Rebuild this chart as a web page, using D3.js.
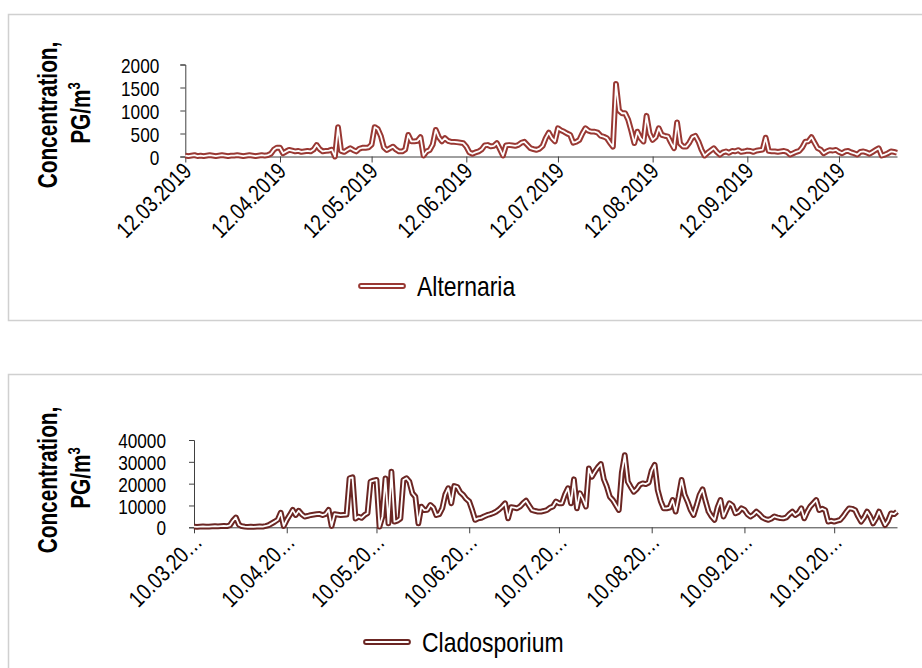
<!DOCTYPE html>
<html><head><meta charset="utf-8">
<script src="https://cdn.jsdelivr.net/npm/d3@7"></script>
<style>
body{margin:0;background:#fff;}
svg{display:block;}
.nar{font-family:"Liberation Sans",Arial,sans-serif;}
.ttl{font-family:"Liberation Sans",Arial,sans-serif;font-weight:bold;}
</style></head><body>
<svg id="c" width="922" height="668"></svg>
<script>
// ---- data ----
const altStart = "2019-03-12";
const altTickLabels = ["12.03.2019","12.04.2019","12.05.2019","12.06.2019","12.07.2019","12.08.2019","12.09.2019","12.10.2019"];
const altYTicks = [0,500,1000,1500,2000];
const alternaria = [
20,10,20,30,10,20,10,20,30,20,10,20,30,20,10,20,20,30,20,10,20,30,20,10,20,30,20,30,
60,150,195,190,70,110,145,130,110,120,100,110,120,110,150,250,160,110,120,130,150,0,
640,120,100,140,180,140,110,170,190,190,200,260,640,600,450,200,140,180,215,150,
110,110,150,470,330,330,340,420,20,110,140,260,580,420,330,400,340,320,320,310,
300,290,215,90,60,90,110,150,240,250,220,230,290,160,20,240,250,240,230,250,
300,320,250,180,160,145,170,230,400,520,400,330,615,570,540,500,470,300,320,360,
500,615,560,540,540,520,450,430,400,300,215,1580,1000,940,940,800,560,290,540,400,
325,885,500,360,420,615,470,450,435,300,180,740,280,215,215,300,420,450,325,150,
20,80,130,180,100,40,90,110,80,120,110,140,100,110,130,120,100,130,140,150,
410,120,110,110,100,110,120,100,40,70,100,120,200,325,330,420,300,180,150,70,
110,140,130,145,100,70,110,120,90,70,40,100,110,90,60,100,140,180,20,40,
70,110,100,80];

const claStart = "2019-03-10";
const claTickLabels = ["10.03.20…","10.04.20…","10.05.20…","10.06.20…","10.07.20…","10.08.20…","10.09.20…","10.10.20…"];
const claYTicks = [0,10000,20000,30000,40000];
const cladosporium = [
300,200,300,400,300,300,400,500,400,500,600,500,900,3000,4500,1200,500,300,200,300,
200,300,400,300,600,1000,1800,2600,3500,6700,600,3400,5600,8000,5600,7600,6000,4900,5200,5600,
5800,6000,6100,5600,6100,8000,600,6000,5800,5600,5700,5800,22500,22900,4000,4900,4300,5600,6400,20900,
21400,21700,300,5000,22400,1800,25500,2600,3000,4000,21700,22500,20900,15600,14000,1800,9500,7900,8000,10200,
9000,5600,6000,8700,15000,17900,11000,18900,18500,16000,14800,13000,11800,7900,3400,4100,4300,5000,5600,6000,
6500,7200,8200,9500,11000,4100,9200,9000,8700,9500,11000,12200,10000,7900,7500,7200,7200,7500,7900,9000,
9500,11800,11000,11000,15000,17900,11000,22000,8700,15600,13000,9500,27000,23200,25500,27500,29000,22000,18600,14000,
12500,10200,7900,25000,33100,20900,18500,16300,17500,19500,20100,19800,20500,26000,28600,17100,12000,8700,8700,9000,
12500,7200,14000,21700,15000,11800,8000,5600,10000,14800,17400,12000,7200,5000,3400,9000,12500,4900,8000,11000,
10000,6400,7000,8700,8000,6000,4900,5800,7200,6000,4500,3800,3400,4000,5000,4500,4200,4100,4500,6000,
7200,5600,6500,8700,4100,7200,9500,11000,12500,7900,8500,7900,2600,3000,2600,3000,3400,5000,7000,8700,
8500,7900,5000,2600,4500,7200,5000,1800,4000,7200,4000,1000,3000,6400,6000,7200];

// ---- drawing ----
const svg = d3.select("#c");
const parse = d3.timeParse("%Y-%m-%d");
const SX = 0.82; // narrow font emulation

svg.append("rect").attr("x",8.5).attr("y",14.5).attr("width",940).attr("height",306)
  .attr("fill","none").attr("stroke","#d0d0d0").attr("stroke-width",1.5);
svg.append("rect").attr("x",8.5).attr("y",374.5).attr("width",940).attr("height",400)
  .attr("fill","none").attr("stroke","#d0d0d0").attr("stroke-width",1.5);

function panel(o){
  const start = parse(o.start);
  const dates = o.values.map((v,i)=>d3.timeDay.offset(start,i));
  const x = d3.scaleTime().domain([dates[0],dates[dates.length-1]]).range([o.x0,o.x1]);
  const y = d3.scaleLinear().domain([0,o.yTicks[o.yTicks.length-1]]).range([o.y0,o.y1]);
  const g = svg.append("g");
  // y axis
  const ya = g.append("g").attr("transform",`translate(${o.x0},0)`)
    .call(d3.axisLeft(y).tickValues(o.yTicks).tickSize(5).tickFormat(d3.format("d")));
  ya.attr("font-family",null).attr("font-size",null);
  ya.select(".domain").attr("stroke","#404040");
  ya.selectAll(".tick line").attr("stroke","#404040");
  ya.selectAll(".tick text").attr("class","nar").attr("font-size",21).attr("fill","#000")
    .attr("x",0).attr("dy","0.36em").attr("text-anchor","end")
    .attr("transform",`translate(${-o.labOff},0) scale(${SX},1)`);
  // x axis
  const tickDates = o.tickLabels.map(s=>{const p=s.split(".");return new Date(2019,+p[1]-1,+p[0]);});
  const xa = g.append("g").attr("transform",`translate(0,${o.y0})`)
    .call(d3.axisBottom(x).tickValues(tickDates).tickSize(6).tickSizeOuter(0)
      .tickFormat((d,i)=>o.tickLabels[i]));
  xa.attr("font-family",null).attr("font-size",null);
  xa.select(".domain").attr("stroke","#404040");
  xa.selectAll(".tick line").attr("stroke","#404040");
  xa.selectAll(".tick text").attr("class","nar").attr("font-size",23).attr("fill","#000")
    .attr("text-anchor","end").attr("y",0).attr("dy",0)
    .attr("transform",`translate(${o.lxo},16) rotate(-45) scale(${SX},1)`);
  // line (double-line style)
  const line = d3.line().x((d,i)=>x(dates[i])).y(d=>y(d)).curve(d3.curveLinear);
  g.append("path").datum(o.values).attr("d",line).attr("fill","none")
    .attr("stroke",o.color).attr("stroke-width",5.8).attr("stroke-linejoin","round");
  g.append("path").datum(o.values).attr("d",line).attr("fill","none")
    .attr("stroke","#fff").attr("stroke-width",1.8).attr("stroke-linejoin","round");
  // y title
  const t = g.append("text").attr("class","ttl").attr("font-size",27).attr("fill","#000")
    .attr("text-anchor","middle").attr("transform",`translate(57,${o.tc}) rotate(-90) scale(0.77,1)`);
  t.text("Concentration,");
  const t2 = g.append("text").attr("class","ttl").attr("font-size",27).attr("fill","#000")
    .attr("text-anchor","middle").attr("transform",`translate(90,${o.tc - 2}) rotate(-90) scale(0.77,1)`);
  t2.append("tspan").text("PG/m");
  t2.append("tspan").attr("font-size",17).attr("dy",-10).text("3");
  // legend
  g.append("line").attr("x1",o.lx).attr("x2",o.lx+42).attr("y1",o.ly).attr("y2",o.ly)
    .attr("stroke",o.color).attr("stroke-width",5.8).attr("stroke-linecap","round");
  g.append("line").attr("x1",o.lx).attr("x2",o.lx+42).attr("y1",o.ly).attr("y2",o.ly)
    .attr("stroke","#fff").attr("stroke-width",1.8).attr("stroke-linecap","round");
  g.append("text").attr("class","nar").attr("font-size",28).attr("fill","#000")
    .attr("transform",`translate(${o.lx+56},${o.ly+10}) scale(${SX},1)`).text(o.name);
}

panel({start:altStart,values:alternaria,tickLabels:altTickLabels,yTicks:altYTicks,
  x0:185.3,x1:897,y0:156.5,y1:64.5,labOff:26,color:"#993833",tc:115,lx:361,ly:286,lxo:7,name:"Alternaria"});
panel({start:claStart,values:cladosporium,tickLabels:claTickLabels,yTicks:claYTicks,
  x0:194,x1:897,y0:527.3,y1:440,labOff:28,color:"#6b2623",tc:480,lx:366,ly:642,lxo:9,name:"Cladosporium"});
</script>
</body></html>
